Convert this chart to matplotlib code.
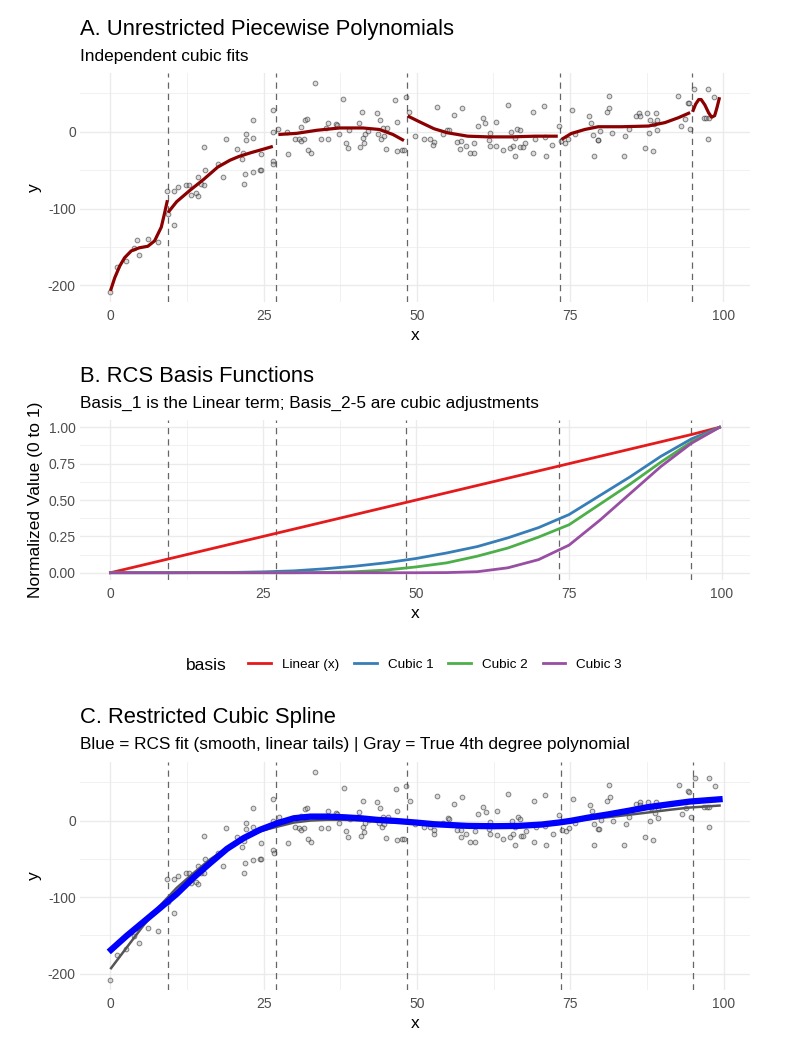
import matplotlib
matplotlib.use("Agg")
import matplotlib.pyplot as plt
from matplotlib.lines import Line2D

plt.rcParams['font.family'] = ['Liberation Sans', 'DejaVu Sans']
plt.rcParams['axes.unicode_minus'] = False

# ---- data ----
# scatter (same points in panels A and C)
pts_x = [0.0, 1.0, 2.5, 3.9, 4.4, 4.6, 6.1, 7.7,
         9.3, 9.4, 10.3, 10.4, 11.0, 12.3, 12.8, 13.1, 14.0, 14.3, 14.3, 14.8, 15.3, 15.4, 15.2,
         17.5, 18.4, 18.8,
         20.6, 21.5, 21.7, 21.8, 22.0, 22.1, 22.1, 23.2, 23.2, 23.3, 24.4, 24.6, 24.6,
         26.5, 26.5, 26.5, 26.6,
         27.4, 28.8, 28.9, 30.1, 30.7, 31.1, 31.6, 31.1, 31.7, 32.1, 32.2, 32.7, 33.3, 34.3,
         35.2, 35.5, 35.5, 36.8, 37.0, 37.3, 38.0, 38.4, 38.8, 39.0, 40.6, 40.8, 41.1, 41.2,
         41.5, 41.4, 42.1, 43.5, 44.0, 44.4, 43.7, 44.2, 44.6, 45.2, 44.9, 46.5, 46.7, 46.7,
         47.5, 47.9, 48.2, 48.8,
         49.7, 51.1, 52.1, 52.8, 52.7, 53.3, 54.2, 55.0, 55.2, 56.0, 56.5, 57.2, 57.3, 57.1,
         58.0, 58.6, 59.4, 59.4, 60.0, 60.8, 61.2, 61.9, 61.7, 61.9, 63.0, 63.0, 64.0, 64.8,
         65.2, 65.4, 65.7, 66.0, 66.0, 66.4, 66.8, 66.9, 67.3, 67.7, 69.0, 69.0, 69.3, 70.8,
         70.9, 71.0, 72.1, 73.2, 73.6, 74.2, 74.7, 75.4, 75.8,
         78.1, 78.5, 78.8, 79.5, 79.6, 78.9, 79.9, 81.3, 81.0, 81.4, 81.9, 83.8, 84.0, 84.6,
         85.7, 86.3, 86.4, 87.2, 87.6, 87.9, 88.1, 88.5, 88.7, 89.0, 89.2, 89.2, 92.7, 93.1,
         93.8, 94.2, 94.4, 94.6, 95.3, 96.8, 97.2, 97.6, 97.5, 97.5, 98.5]
pts_y = [-208, -176, -168, -151, -141, -160, -140, -144,
         -77, -107, -77, -121, -72, -69, -69, -82, -80, -83, -59, -68, -69, -50, -20,
         -42, -59, -10,
         -22, -35, -27, -68, -55, -3, -11, 16, -52, -8, -50, -50, -29,
         28, 0, -38, -42,
         4, 0, -29, -9, -10, -12, -10, 6, 15, 17, -24, -28, 63, -10,
         5, 12, -10, 10, 9, -3, 43, -14, -21, 2, 11, -20, 26, -8,
         -3, -15, 1, 24, 16, 5, -3, -9, -5, 5, -23, 41, 13, -25,
         -24, -24, 45, 26,
         -5, -9, -9, -13, -17, 32, -3, 3, 2, 22, -13, -12, 31, -22,
         -18, -28, -28, -14, 8, 18, 11, -2, -11, -18, 13, -19, -24, 35,
         -21, 0, -18, -32, -8, 4, 2, -20, -20, -14, 26, -28, -9, 33,
         -7, -32, -17, 7, -12, -14, -10, 28, -3,
         20, 12, -4, -11, -11, -32, 1, 46, 26, 31, -1, -32, -5, 4,
         21, 24, 20, -21, 24, -1, 16, -25, 10, 24, 16, 3, 46, 8,
         17, 38, 37, 4, 56, 18, 18, 18, 56, -9, 45]

# panel A: independent cubic fit per knot interval
seg_x = [
    [0.0, 0.7, 1.5, 2.3, 3.4, 4.7, 6.1, 7.2, 8.3, 8.8, 9.3],
    [9.4, 10.8, 13.0, 15.2, 17.5, 19.5, 21.0, 23.0, 25.0, 26.5],
    [27.4, 30.4, 33.7, 37.4, 41.2, 43.9, 46.1, 47.9],
    [48.5, 50.7, 52.8, 55.0, 58.3, 61.6, 65.4, 69.3, 73.0],
    [73.6, 75.2, 77.4, 79.6, 83.4, 87.8, 90.5, 92.7, 94.6],
    [95.0, 95.5, 96.0, 96.4, 97.0, 97.6, 98.1, 98.6, 99.0, 99.4],
]
seg_y = [
    [-207, -190, -175, -164, -155, -151, -149, -142, -124, -107, -89],
    [-105, -91, -76, -62, -46, -37, -32, -27, -22.5, -19],
    [-3.5, -2, 2, 5, 5, 3, -3.5, -11.4],
    [20.6, 12, 4, -1.3, -5.7, -6.6, -6.6, -5.7, -5.7],
    [-10, -2.2, 3, 6.6, 6.6, 7.5, 12, 18.4, 25],
    [26, 36, 42, 42, 35, 25, 19, 21, 32, 45],
]

knots = [9.4, 27.0, 48.4, 73.4, 94.9]

# panel B: normalised basis functions
basis_x = [0, 10, 20, 25, 30, 35, 40, 45, 50, 55, 60, 65, 70, 75, 80, 85, 90, 95, 99.6]
basis_names = ['Linear (x)', 'Cubic 1', 'Cubic 2', 'Cubic 3']
basis_vals = [
    [0, 0.10, 0.20, 0.25, 0.30, 0.35, 0.40, 0.45, 0.50, 0.55, 0.60, 0.65, 0.70, 0.75, 0.80, 0.85, 0.90, 0.95, 1.0],
    [0, 0, 0.002, 0.006, 0.013, 0.027, 0.045, 0.068, 0.098, 0.136, 0.18, 0.24, 0.31, 0.40, 0.53, 0.66, 0.80, 0.92, 1.0],
    [0, 0, 0, 0, 0, 0.002, 0.007, 0.018, 0.04, 0.068, 0.114, 0.17, 0.245, 0.33, 0.47, 0.61, 0.76, 0.90, 1.0],
    [0, 0, 0, 0, 0, 0, 0, 0, 0, 0.001, 0.007, 0.034, 0.09, 0.19, 0.36, 0.545, 0.73, 0.89, 1.0],
]
basis_colors = ['#E41A1C', '#377EB8', '#4DAF4A', '#984EA3']

# panel C: RCS fit (blue) and true polynomial (gray)
rcs_x = [0.1, 2.6, 5.3, 8.0, 10.8, 13.5, 16.2, 19.0, 21.7, 24.4, 27.2, 29.9, 32.6, 35.3, 38.1,
         40.8, 43.5, 46.3, 49.8, 52.8, 58.3, 62.5, 66.5, 70.3, 73.1, 75.0, 78.0, 81.3, 84.6,
         87.5, 91.1, 94.4, 99.3]
rcs_y = [-169, -151, -133, -115, -96, -75, -56, -37, -23, -12, -3.5, 3, 5.2, 5.2, 4.3,
         3, 0.9, -0.4, -2.6, -4.8, -7, -7.4, -7, -5.2, -2.6, -0.4, 4, 8.3, 13,
         17.4, 21.3, 24.8, 27.8]
true_x = [0.1, 2.6, 5.3, 8.0, 10.8, 13.5, 16.2, 19.0, 21.7, 24.4, 27.2, 29.9, 32.6, 35.3, 38.1,
          40.8, 43.5, 46.3, 52.8, 58.3, 63.8, 69.2, 73.1, 78.0, 82.9, 87.5, 91.1, 94.4, 99.3]
true_y = [-193, -166.5, -138, -112, -88, -69, -51, -36, -23, -14, -8, -2.6, 0, 0.9, 0.9,
          0, -1.3, -2.6, -3.5, -5.7, -5.7, -4.8, -2.6, 1.7, 6, 10.4, 14, 17, 19.6]

W, H = 800, 1051
GRID = '#EBEBEB'


def box(left, top, right, bottom):
    return [left / W, 1 - bottom / H, (right - left) / W, (bottom - top) / H]


# общий стиль в духе theme_minimal
def style_axes(ax, ylabel):
    for s in ax.spines.values():
        s.set_visible(False)
    ax.set_xticks([0, 25, 50, 75, 100])
    ax.set_xticks([12.5, 37.5, 62.5, 87.5], minor=True)
    ax.grid(True, which='major', color=GRID, linewidth=1.0)
    ax.grid(True, which='minor', color=GRID, linewidth=0.5)
    ax.set_axisbelow(True)
    ax.tick_params(which='both', length=0, labelsize=10, labelcolor='#4D4D4D')
    ax.tick_params(axis='x', pad=5)
    ax.tick_params(axis='y', pad=3)
    ax.set_xlabel('x', fontsize=12.5, labelpad=4)
    ax.set_ylabel(ylabel, fontsize=12.5, labelpad=4)


def add_knots(ax):
    for k in knots:
        ax.axvline(k, color='#666666', linewidth=0.9, linestyle=(0, (5, 4)), zorder=1)


def add_points(ax):
    ax.plot(pts_x, pts_y, linestyle='none', marker='o', markersize=3.4,
            markerfacecolor=(0.6, 0.6, 0.6, 0.35), markeredgecolor=(0.15, 0.15, 0.15, 0.55),
            markeredgewidth=0.7, zorder=2)


def titles(top, title, subtitle):
    fig.text(80 / W, 1 - (top - 44) / H, title, fontsize=15.8, va='center')
    fig.text(80 / W, 1 - (top - 17) / H, subtitle, fontsize=12.4, va='center')


fig = plt.figure(figsize=(8, 10.51), dpi=100)

# A
ax1 = fig.add_axes(box(80, 73, 750, 302))
add_knots(ax1)
add_points(ax1)
for sx, sy in zip(seg_x, seg_y):
    ax1.plot(sx, sy, color='#8B0000', linewidth=2.3, solid_capstyle='butt', zorder=3)
ax1.set_yticks([-200, -100, 0])
ax1.set_yticks([-150, -50, 50], minor=True)
style_axes(ax1, 'y')
titles(73, 'A. Unrestricted Piecewise Polynomials', 'Independent cubic fits')

# B
ax2 = fig.add_axes(box(80, 420, 750, 580))
add_knots(ax2)
for name, vals, c in zip(basis_names, basis_vals, basis_colors):
    ax2.plot(basis_x, vals, color=c, linewidth=2.0, label=name, zorder=3)
ax2.set_yticks([0, 0.25, 0.5, 0.75, 1.0])
ax2.set_yticks([0.125, 0.375, 0.625, 0.875], minor=True)
ax2.yaxis.set_major_formatter(matplotlib.ticker.FormatStrFormatter('%.2f'))
style_axes(ax2, 'Normalized Value (0 to 1)')
titles(420, 'B. RCS Basis Functions', 'Basis_1 is the Linear term; Basis_2-5 are cubic adjustments')

handles = [Line2D([], [], color=c, linewidth=2.0) for c in basis_colors]
fig.text(186 / W, 1 - 665 / H, 'basis', fontsize=12.5, va='center')
fig.legend(handles, basis_names, loc='center left', bbox_to_anchor=(243 / W, 1 - 665 / H),
           ncol=4, frameon=False, fontsize=9.7, handlelength=1.7, handletextpad=0.8,
           columnspacing=1.1, borderaxespad=0)

# C
ax3 = fig.add_axes(box(80, 762, 750, 990))
add_knots(ax3)
add_points(ax3)
ax3.plot(true_x, true_y, color='#555555', linewidth=1.8, zorder=3)
ax3.plot(rcs_x, rcs_y, color='#0000FF', linewidth=4.5, zorder=4)
ax3.set_yticks([-200, -100, 0])
ax3.set_yticks([-150, -50, 50], minor=True)
style_axes(ax3, 'y')
titles(762, 'C. Restricted Cubic Spline',
       'Blue = RCS fit (smooth, linear tails) | Gray = True 4th degree polynomial')

fig.savefig('out.png', dpi=100, facecolor='white')
